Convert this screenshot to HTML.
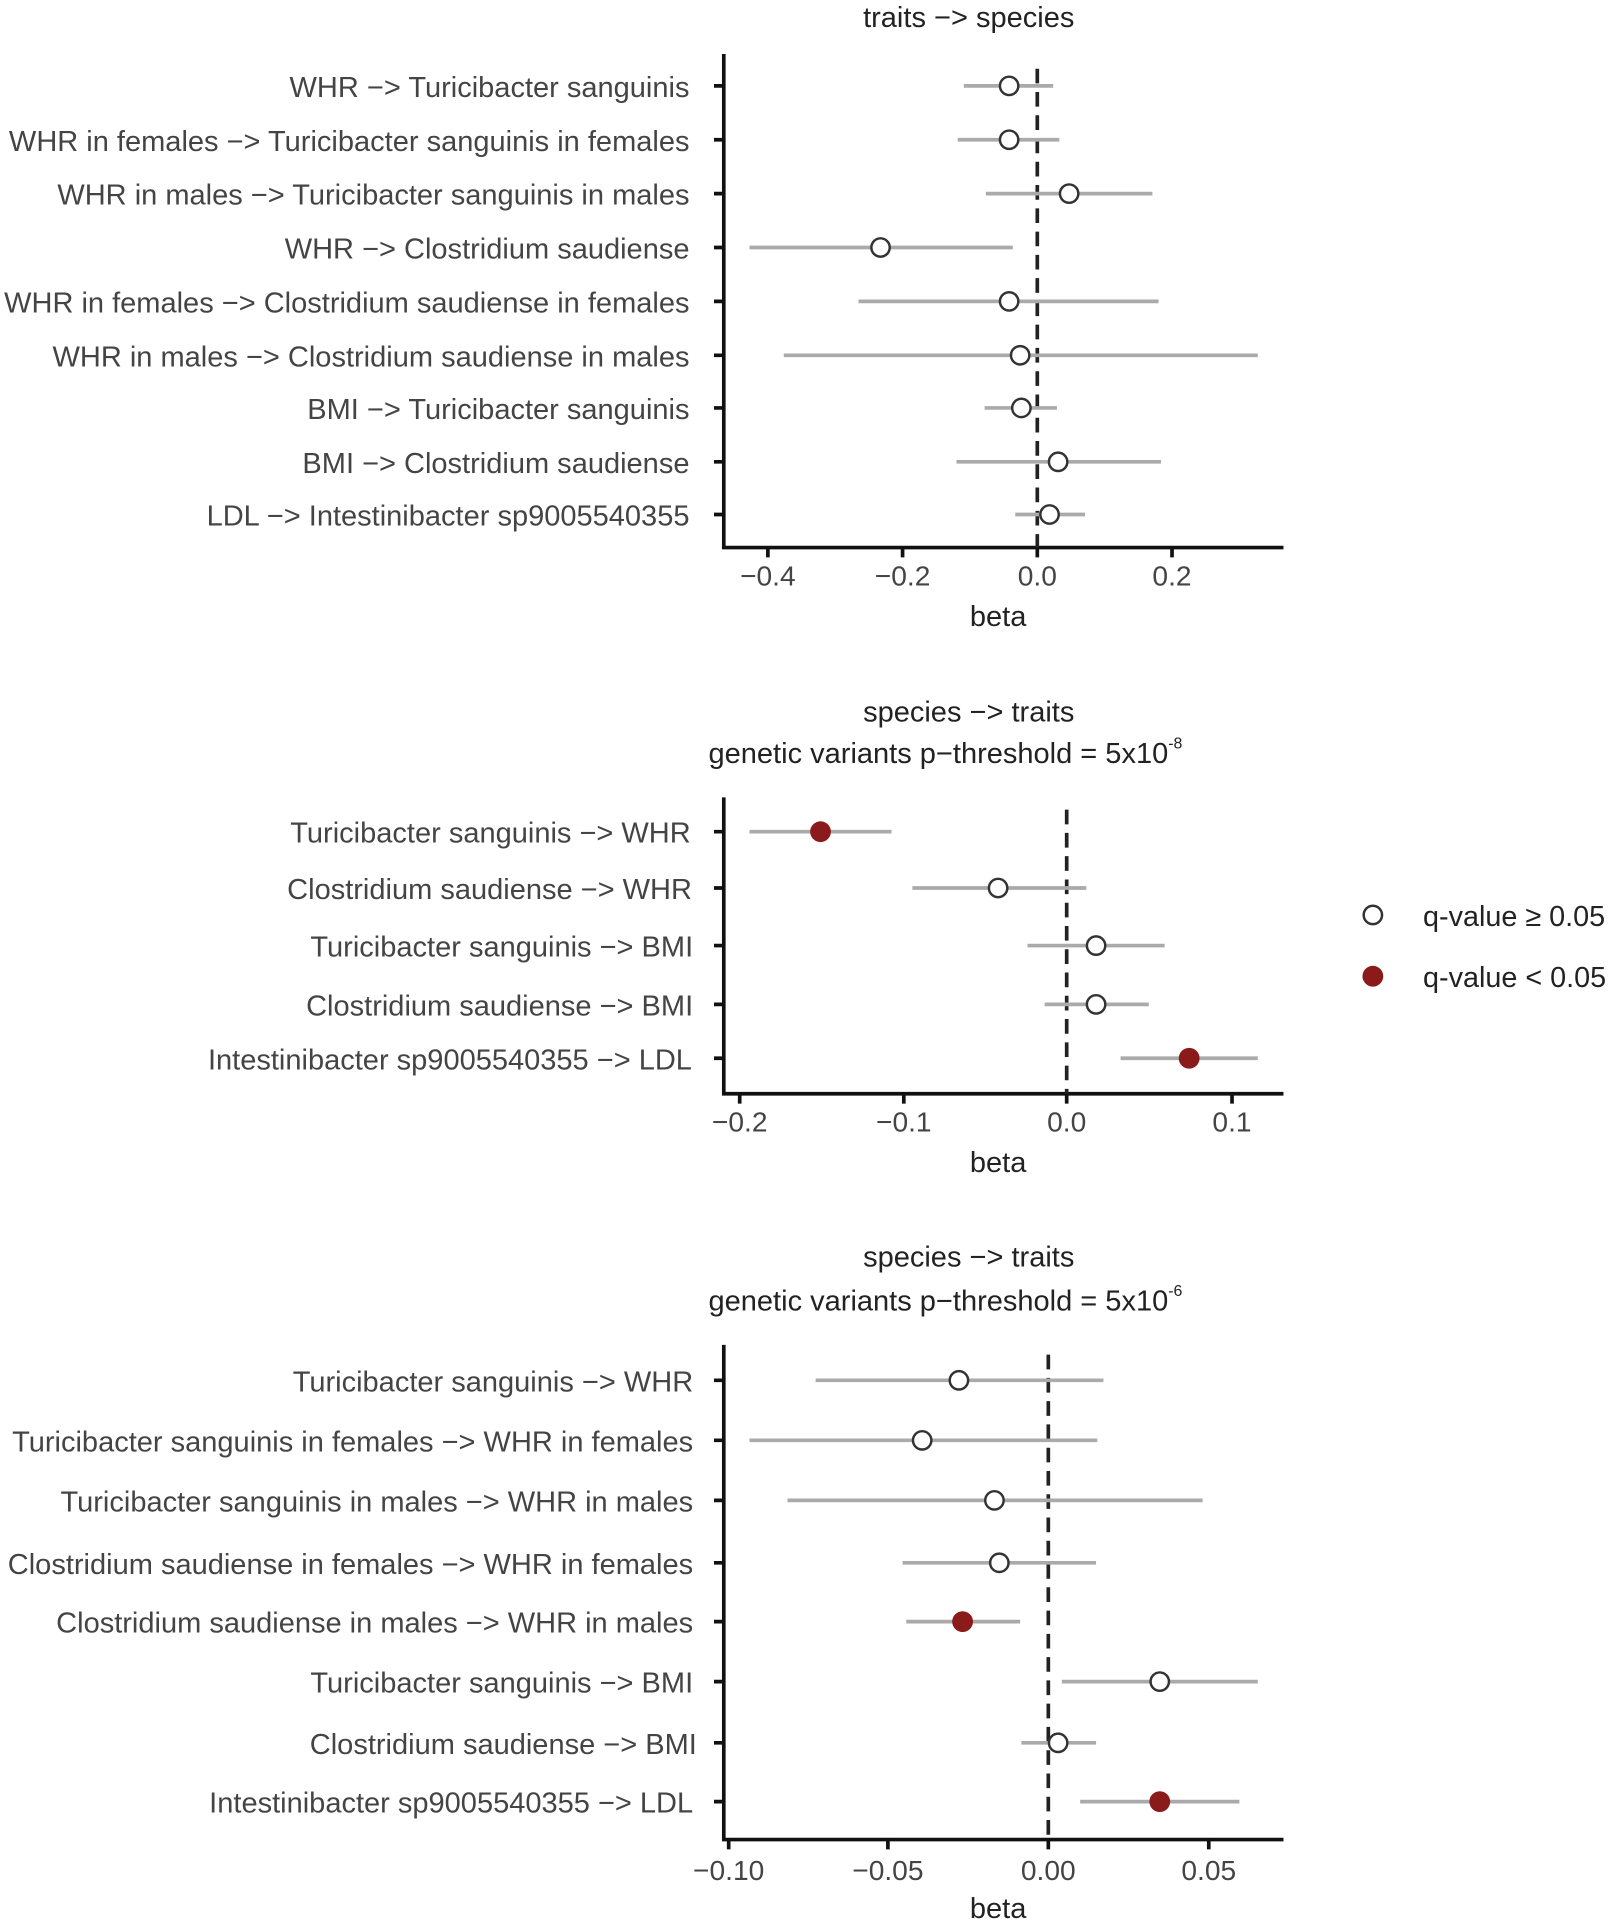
<!DOCTYPE html>
<html><head><style>html,body{margin:0;padding:0;background:#fff}svg{display:block}</style></head><body>
<svg width="1608" height="1923" viewBox="0 0 1313 1570" xmlns="http://www.w3.org/2000/svg" font-family="Liberation Sans, sans-serif">
<g transform="translate(2,1)">
<g font-size="23.7" fill="#222" text-anchor="middle">
<text x="789" y="21">traits −&gt; species</text>
<text x="789" y="588">species −&gt; traits</text>
<text x="770" y="622">genetic variants p−threshold = 5x10<tspan dy="-12" font-size="13">-8</tspan></text>
<text x="789" y="1033">species −&gt; traits</text>
<text x="770" y="1069">genetic variants p−threshold = 5x10<tspan dy="-12" font-size="13">-6</tspan></text>
<text x="813" y="510">beta</text>
<text x="813" y="956">beta</text>
<text x="813" y="1565">beta</text>
</g>
<g font-size="23.7" fill="#444" text-anchor="end">
<text x="561" y="78">WHR −&gt; Turicibacter sanguinis</text>
<text x="561" y="122">WHR in females −&gt; Turicibacter sanguinis in females</text>
<text x="561" y="166">WHR in males −&gt; Turicibacter sanguinis in males</text>
<text x="561" y="210">WHR −&gt; Clostridium saudiense</text>
<text x="561" y="254">WHR in females −&gt; Clostridium saudiense in females</text>
<text x="561" y="298">WHR in males −&gt; Clostridium saudiense in males</text>
<text x="561" y="341">BMI −&gt; Turicibacter sanguinis</text>
<text x="561" y="385">BMI −&gt; Clostridium saudiense</text>
<text x="561" y="428">LDL −&gt; Intestinibacter sp9005540355</text>
<text x="562" y="687">Turicibacter sanguinis −&gt; WHR</text>
<text x="563" y="733">Clostridium saudiense −&gt; WHR</text>
<text x="564" y="780">Turicibacter sanguinis −&gt; BMI</text>
<text x="564" y="828">Clostridium saudiense −&gt; BMI</text>
<text x="563" y="872">Intestinibacter sp9005540355 −&gt; LDL</text>
<text x="564" y="1135">Turicibacter sanguinis −&gt; WHR</text>
<text x="564" y="1184">Turicibacter sanguinis in females −&gt; WHR in females</text>
<text x="564" y="1233">Turicibacter sanguinis in males −&gt; WHR in males</text>
<text x="564" y="1284">Clostridium saudiense in females −&gt; WHR in females</text>
<text x="564" y="1332">Clostridium saudiense in males −&gt; WHR in males</text>
<text x="564" y="1381">Turicibacter sanguinis −&gt; BMI</text>
<text x="567" y="1431">Clostridium saudiense −&gt; BMI</text>
<text x="564" y="1479">Intestinibacter sp9005540355 −&gt; LDL</text>
</g>
<g font-size="23" fill="#444" text-anchor="middle">
<text x="625" y="477">−0.4</text><text x="735" y="477">−0.2</text><text x="845" y="477">0.0</text><text x="955" y="477">0.2</text>
<text x="602" y="923">−0.2</text><text x="736" y="923">−0.1</text><text x="869" y="923">0.0</text><text x="1004" y="923">0.1</text>
<text x="593" y="1534">−0.10</text><text x="723" y="1534">−0.05</text><text x="854" y="1534">0.00</text><text x="985" y="1534">0.05</text>
</g>
<g stroke="#111" stroke-width="3" fill="none">
<path d="M589 43V446H1046"/>
<path d="M589 650V892H1046"/>
<path d="M589 1097V1501H1046"/>
<path d="M581 69h8M581 113h8M581 157h8M581 201h8M581 245h8M581 289h8M581 332h8M581 376h8M581 419h8"/>
<path d="M625 446v8M735 446v8M845 446v8M955 446v8"/>
<path d="M581 678h8M581 724h8M581 771h8M581 819h8M581 863h8"/>
<path d="M602 892v8M736 892v8M869 892v8M1004 892v8"/>
<path d="M581 1126h8M581 1175h8M581 1224h8M581 1275h8M581 1323h8M581 1372h8M581 1422h8M581 1470h8"/>
<path d="M593 1501v8M723 1501v8M854 1501v8M985 1501v8"/>
</g>
<g stroke="#222" stroke-width="3" stroke-dasharray="12,7">
<path d="M845 55V446"/><path d="M869 660V892"/><path d="M854 1105V1501"/>
</g>
<g stroke="#aaa" stroke-width="3">
<path d="M785 69H858M780 113H863M803 157H939M610 201H825M699 245H944M638 289H1025M802 332H861M779 376H946M827 419H884"/>
<path d="M610 678H726M743 724H885M837 771H949M851 819H936M913 863H1025"/>
<path d="M664 1126H899M610 1175H894M641 1224H980M735 1275H893M738 1323H831M865 1372H1025M832 1422H893M880 1470H1010"/>
</g>
<g fill="#fff" stroke="#333" stroke-width="2">
<circle cx="822" cy="69" r="7.5"/><circle cx="822" cy="113" r="7.5"/><circle cx="871" cy="157" r="7.5"/><circle cx="717" cy="201" r="7.5"/><circle cx="822" cy="245" r="7.5"/><circle cx="831" cy="289" r="7.5"/><circle cx="832" cy="332" r="7.5"/><circle cx="862" cy="376" r="7.5"/><circle cx="855" cy="419" r="7.5"/>
<circle cx="813" cy="724" r="7.5"/><circle cx="893" cy="771" r="7.5"/><circle cx="893" cy="819" r="7.5"/>
<circle cx="781" cy="1126" r="7.5"/><circle cx="751" cy="1175" r="7.5"/><circle cx="810" cy="1224" r="7.5"/><circle cx="814" cy="1275" r="7.5"/><circle cx="945" cy="1372" r="7.5"/><circle cx="862" cy="1422" r="7.5"/>
<circle cx="1119" cy="746" r="7.5"/>
</g>
<g fill="#8b1a1a">
<circle cx="668" cy="678" r="8.5"/><circle cx="969" cy="863" r="8.5"/><circle cx="784" cy="1323" r="8.5"/><circle cx="945" cy="1470" r="8.5"/><circle cx="1119" cy="796" r="8.5"/>
</g>
<g font-size="23.5" fill="#222">
<text x="1160" y="755">q-value ≥ 0.05</text>
<text x="1160" y="805">q-value &lt; 0.05</text>
</g>
</g>
</svg>
</body></html>
